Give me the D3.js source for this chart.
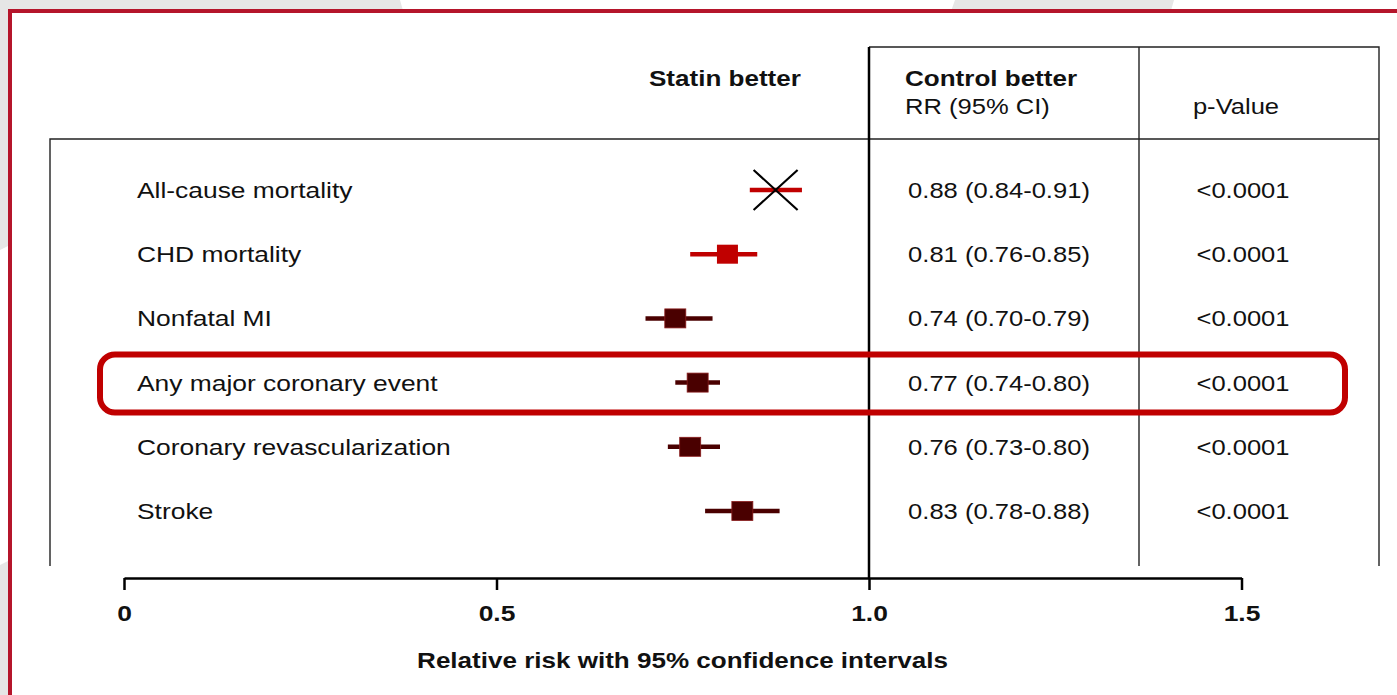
<!DOCTYPE html>
<html>
<head>
<meta charset="utf-8">
<script src="https://cdn.jsdelivr.net/npm/d3@7"></script>
<style>
  html, body { margin: 0; padding: 0; background: #fff; }
  svg { display: block; font-family: "Liberation Sans", Arial, Helvetica, sans-serif; }
</style>
</head>
<body>
<div id="chart"></div>
<script>
// outcome rows, top to bottom
const categories = [
  "All-cause mortality",
  "CHD mortality",
  "Nonfatal MI",
  "Any major coronary event",
  "Coronary revascularization",
  "Stroke"
];
const rr = [0.88, 0.81, 0.74, 0.77, 0.76, 0.83];
const ciLow = [0.84, 0.76, 0.70, 0.74, 0.73, 0.78];
const ciHigh = [0.91, 0.85, 0.79, 0.80, 0.80, 0.88];
const pValues = ["<0.0001", "<0.0001", "<0.0001", "<0.0001", "<0.0001", "<0.0001"];
// marker kind per row: cross / red square / dark square
const markers = ["cross", "red", "dark", "dark", "dark", "dark"];
const highlighted = "Any major coronary event";

const tickValues = [0, 0.5, 1.0, 1.5];
const tickLabels = ["0", "0.5", "1.0", "1.5"];

const W = 1397, H = 695;
const SX = 1.2; // the source figure is stretched horizontally

const rows = categories.map((c, i) => ({
  name: c, rr: rr[i], lo: ciLow[i], hi: ciHigh[i], p: pValues[i], marker: markers[i]
}));

const svg = d3.select("#chart").append("svg")
  .attr("width", W)
  .attr("height", H);

// slide background behind the frame
svg.append("rect").attr("width", W).attr("height", H).attr("fill", "#e6e6e6");
svg.append("path").attr("fill", "#fff")
  .attr("d", "M400,0 L955,0 L950,14 L404,14 Z M1174,0 L1397,0 L1397,14 L1170,14 Z M0,250 L10,245 L10,560 L0,565 Z");

// white panel + red frame
svg.append("rect").attr("x", 10).attr("y", 11).attr("width", W).attr("height", H).attr("fill", "#fff");
svg.append("path")
  .attr("d", `M10,${H + 5} L10,11 L${W + 5},11`)
  .attr("fill", "none")
  .attr("stroke", "#b5152b")
  .attr("stroke-width", 4);

const x = d3.scaleLinear().domain([0, 1.5]).range([124, 1241.5]);
const y = d3.scalePoint().domain(categories).range([190, 511]);

const colLeft = 50, colCI = x(1.0), colP = 1139, colRight = 1379;
const headTop = 47, headBottom = 139, tableBottom = 566, axisY = 578;

const ink = "#111";

function stretched(g, txt, px, py, opts = {}) {
  return g.append("text")
    .attr("transform", `translate(${px},${py}) scale(${SX},1)`)
    .attr("text-anchor", opts.anchor || "start")
    .attr("font-size", opts.size || 21)
    .attr("font-weight", opts.bold ? "bold" : "normal")
    .attr("fill", ink)
    .text(txt);
}

// table frame
const frame = svg.append("g").attr("fill", "none").attr("stroke", "#222").attr("stroke-width", 1.4);
frame.append("path").attr("d", `M${colLeft},${tableBottom} L${colLeft},${headBottom} L${colRight},${headBottom}`);
frame.append("path").attr("d", `M${colCI},${headTop} L${colRight},${headTop} L${colRight},${tableBottom}`);
frame.append("path").attr("d", `M${colP},${headTop} L${colP},${tableBottom}`);

// null line at RR = 1
svg.append("line")
  .attr("x1", colCI).attr("x2", colCI)
  .attr("y1", headTop).attr("y2", axisY)
  .attr("stroke", "#000").attr("stroke-width", 2.5);

// headers
stretched(svg, "Statin better", 649, 86, { bold: true, size: 21.7 });
stretched(svg, "Control better", 905, 86, { bold: true, size: 21.7 });
stretched(svg, "RR (95% CI)", 905, 114, { size: 21.3 });
stretched(svg, "p-Value", 1236, 114, { size: 21.3, anchor: "middle" });

// highlight box for the composite endpoint
svg.append("rect")
  .attr("x", 100).attr("y", y(highlighted) - 28)
  .attr("width", 1245).attr("height", 58)
  .attr("rx", 15)
  .attr("fill", "none")
  .attr("stroke", "#c00000")
  .attr("stroke-width", 6);

// rows
const row = svg.append("g").selectAll("g")
  .data(rows)
  .join("g")
  .attr("class", "row");

row.each(function (d) {
  const g = d3.select(this);
  const cy = y(d.name);
  stretched(g, d.name, 137, cy + 8, { size: 22 });
  stretched(g, `${d.rr.toFixed(2)} (${d.lo.toFixed(2)}-${d.hi.toFixed(2)})`, 999, cy + 8, { anchor: "middle", size: 21.3 });
  stretched(g, d.p, 1243, cy + 8, { anchor: "middle", size: 21.3 });

  const col = d.marker === "dark" ? "#4a0000" : "#c00000";
  g.append("line")
    .attr("x1", x(d.lo)).attr("x2", x(d.hi))
    .attr("y1", cy).attr("y2", cy)
    .attr("stroke", col).attr("stroke-width", 4.5);

  if (d.marker === "cross") {
    const cx = x(d.rr) - 4;
    g.append("path")
      .attr("d", `M${cx - 22},${cy - 20} L${cx + 22},${cy + 20} M${cx - 22},${cy + 20} L${cx + 22},${cy - 20}`)
      .attr("stroke", "#000").attr("stroke-width", 2.2);
  } else {
    g.append("rect")
      .attr("x", x(d.rr) - 10.5).attr("y", cy - 9.5)
      .attr("width", 21).attr("height", 19)
      .attr("fill", col)
      .attr("stroke", d.marker === "dark" ? "#8a1c1c" : "none")
      .attr("stroke-width", 0.8);
  }
});

// x axis
const axis = svg.append("g")
  .attr("transform", `translate(0,${axisY})`)
  .call(d3.axisBottom(x)
    .tickValues(tickValues)
    .tickFormat((d, i) => tickLabels[i])
    .tickSize(12)
    .tickSizeOuter(0));

axis.select(".domain").attr("stroke", "#000").attr("stroke-width", 2.5);
axis.selectAll(".tick line").attr("stroke", "#000").attr("stroke-width", 2.5);
axis.selectAll(".tick text")
  .attr("y", null).attr("dy", null)
  .attr("transform", `translate(0,43) scale(${SX},1)`)
  .attr("font-size", 22)
  .attr("font-weight", "bold")
  .attr("font-family", "Liberation Sans, Arial, sans-serif")
  .attr("fill", ink);

stretched(svg, "Relative risk with 95% confidence intervals", 682.5, 668, { bold: true, size: 21.7, anchor: "middle" });
</script>
</body>
</html>
